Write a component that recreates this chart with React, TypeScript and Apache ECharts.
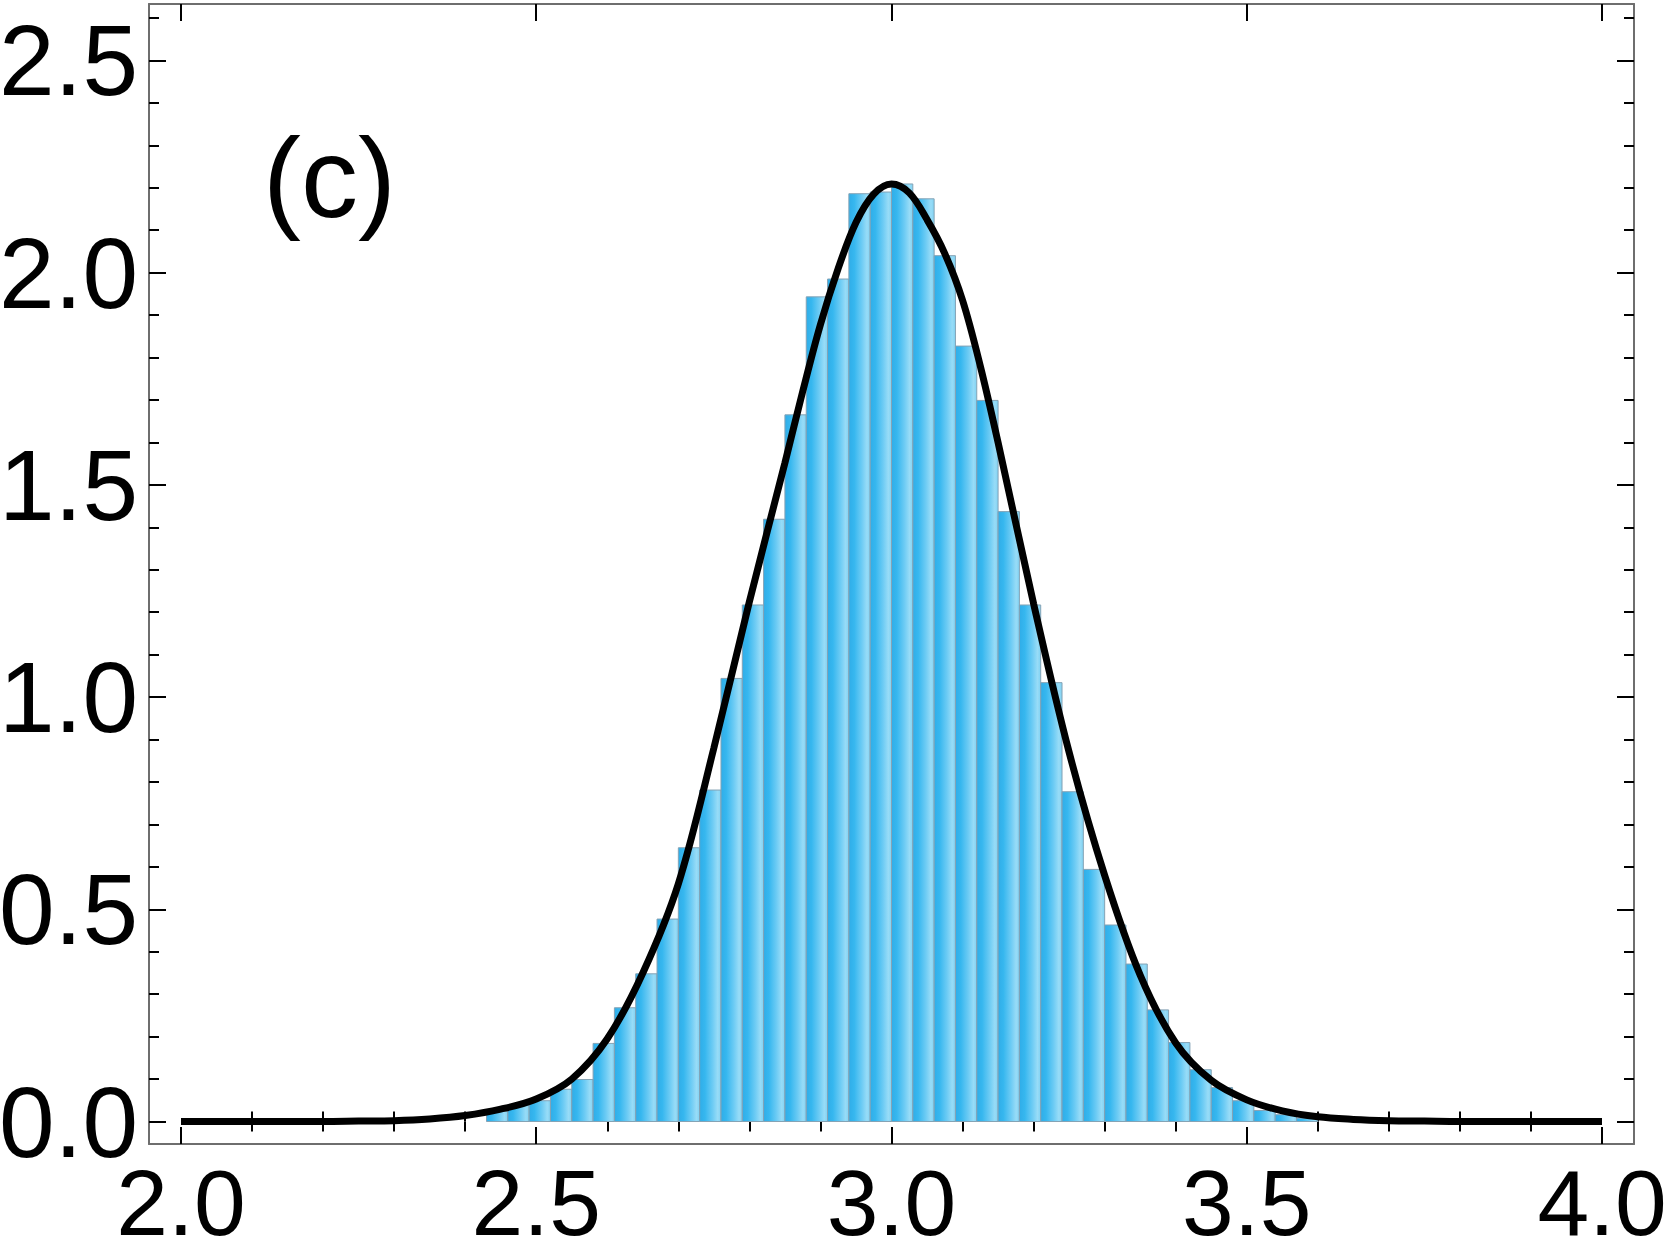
import React, { useEffect, useRef } from "react";
import * as echarts from "echarts";

// Histogram bins (left edge) and heights
const binLeft = [
  2.43, 2.46, 2.49, 2.52, 2.55, 2.58, 2.61, 2.64, 2.67, 2.7, 2.73, 2.76, 2.79,
  2.82, 2.85, 2.88, 2.91, 2.94, 2.97, 3.0, 3.03, 3.06, 3.09, 3.12, 3.15, 3.18,
  3.21, 3.24, 3.27, 3.3, 3.33, 3.36, 3.39, 3.42, 3.45, 3.48, 3.51, 3.54, 3.57,
];
const binWidth = 0.03;
const binHeights = [
  0.024, 0.04, 0.049, 0.076, 0.099, 0.184, 0.268, 0.348, 0.477, 0.645, 0.781,
  1.044, 1.217, 1.419, 1.665, 1.943, 1.985, 2.186, 2.19, 2.209, 2.174, 2.04,
  1.827, 1.699, 1.437, 1.217, 1.034, 0.777, 0.594, 0.463, 0.371, 0.263, 0.186,
  0.122, 0.08, 0.049, 0.026, 0.016, 0.008,
];

// Fitted curve
const curveX = [
  2.0, 2.1, 2.2, 2.25, 2.3, 2.35, 2.4, 2.45, 2.5, 2.55, 2.6, 2.65,
  2.7, 2.75, 2.8, 2.85, 2.875, 2.9, 2.925, 2.95, 2.975, 3.0, 3.025, 3.05,
  3.075, 3.1, 3.125, 3.15, 3.2, 3.25, 3.3, 3.35, 3.4, 3.45, 3.5, 3.55, 3.6,
  3.65, 3.7, 3.75, 3.8, 3.9, 4.0,
];
const curveY = [
  0, 0, 0, 0.001, 0.002, 0.006, 0.014, 0.029, 0.053, 0.1, 0.195, 0.35,
  0.56, 0.88, 1.225, 1.552, 1.72, 1.878, 2.01, 2.118, 2.185, 2.209, 2.188,
  2.125, 2.045, 1.935, 1.78, 1.6, 1.22, 0.87, 0.58, 0.345, 0.185, 0.097,
  0.051, 0.025, 0.011, 0.005, 0.002, 0.001, 0, 0, 0,
];

const xMajor = [2.0, 2.5, 3.0, 3.5, 4.0];
const xMinor = [
  2.1, 2.2, 2.3, 2.4, 2.6, 2.7, 2.8, 2.9, 3.1, 3.2, 3.3, 3.4, 3.6, 3.7, 3.8, 3.9,
];
const yMajor = [0.0, 0.5, 1.0, 1.5, 2.0, 2.5];
const yMinor = [
  0.1, 0.2, 0.3, 0.4, 0.6, 0.7, 0.8, 0.9, 1.1, 1.2, 1.3, 1.4, 1.6, 1.7, 1.8,
  1.9, 2.1, 2.2, 2.3, 2.4, 2.6,
];

const X_MIN = 1.955;
const X_MAX = 4.045;
const Y_MIN = -0.053;
const Y_MAX = 2.633;

const FONT = "'Liberation Sans', Arial, sans-serif";

export default function App() {
  const ref = useRef<HTMLDivElement>(null);

  useEffect(() => {
    if (!ref.current) return;
    const chart = echarts.init(ref.current, null, { renderer: "svg" });

    const frameLine = { show: true, onZero: false, lineStyle: { color: "#6e6e6e", width: 2 } };
    const noLine = { show: false };

    const mkX = (position: string, ticks: number[], len: number, labels: boolean, line: boolean) => ({
      type: "value",
      position,
      min: X_MIN,
      max: X_MAX,
      axisLine: line ? frameLine : noLine,
      splitLine: { show: false },
      axisTick: {
        show: true,
        inside: true,
        length: len,
        customValues: ticks,
        lineStyle: { color: "#000", width: 2 },
      },
      axisLabel: labels
        ? {
            show: true,
            customValues: xMajor,
            formatter: (v: number) => v.toFixed(1),
            fontFamily: FONT,
            fontSize: 93,
            color: "#000",
            margin: 12,
          }
        : { show: false },
    });

    const mkY = (position: string, ticks: number[], len: number, labels: boolean, line: boolean) => ({
      type: "value",
      position,
      min: Y_MIN,
      max: Y_MAX,
      axisLine: line ? frameLine : noLine,
      splitLine: { show: false },
      axisTick: {
        show: true,
        inside: true,
        length: len,
        customValues: ticks,
        lineStyle: { color: "#000", width: 2 },
      },
      axisLabel: labels
        ? {
            show: true,
            customValues: yMajor,
            formatter: (v: number) => v.toFixed(1),
            fontFamily: FONT,
            fontSize: 100,
            color: "#000",
            margin: 11,
          }
        : { show: false },
    });

    const barData = binLeft.map((l, i) => [l, l + binWidth, binHeights[i]]);
    const curveData = curveX.map((x, i) => [x, curveY[i]]);

    const barFill = new echarts.graphic.LinearGradient(0, 0, 1, 0, [
      { offset: 0, color: "#30ade8" },
      { offset: 0.25, color: "#36b7ef" },
      { offset: 0.6, color: "#6ccbf4" },
      { offset: 0.85, color: "#98dcf7" },
      { offset: 1, color: "#80d2f3" },
    ]);

    chart.setOption({
      animation: false,
      backgroundColor: "#ffffff",
      grid: {
        left: 149,
        right: 33,
        top: 4,
        bottom: 115,
        containLabel: false,
        outerBoundsMode: "none",
      },
      xAxis: [
        mkX("bottom", xMajor, 17, true, true),
        mkX("bottom", xMinor, 10, false, false),
        mkX("top", xMajor, 17, false, true),
        mkX("top", xMinor, 10, false, false),
      ],
      yAxis: [
        mkY("left", yMajor, 17, true, true),
        mkY("left", yMinor, 10, false, false),
        mkY("right", yMajor, 17, false, true),
        mkY("right", yMinor, 10, false, false),
      ],
      graphic: [
        {
          type: "text",
          left: 263,
          top: 120,
          style: {
            text: "(c)",
            fontFamily: FONT,
            fontSize: 114,
            fill: "#000",
          },
        },
      ],
      series: [
        {
          type: "custom",
          xAxisIndex: 0,
          yAxisIndex: 0,
          data: barData,
          encode: { x: [0, 1], y: 2 },
          renderItem: (params: any, api: any) => {
            const p0 = api.coord([api.value(0), 0]);
            const p1 = api.coord([api.value(1), api.value(2)]);
            return {
              type: "rect",
              shape: {
                x: p0[0],
                y: p1[1],
                width: p1[0] - p0[0],
                height: p0[1] - p1[1],
              },
              style: {
                fill: barFill,
                stroke: "#85a3b5",
                lineWidth: 1,
              },
            };
          },
          z: 2,
        },
        {
          type: "line",
          xAxisIndex: 0,
          yAxisIndex: 0,
          data: curveData,
          smooth: 0.35,
          symbol: "none",
          lineStyle: { color: "#000", width: 7 },
          z: 5,
        },
      ],
    });

    return () => chart.dispose();
  }, []);

  return (
    <div
      ref={ref}
      style={{ position: "fixed", left: 0, top: 0, width: 1667, height: 1259, background: "#fff" }}
    />
  );
}
